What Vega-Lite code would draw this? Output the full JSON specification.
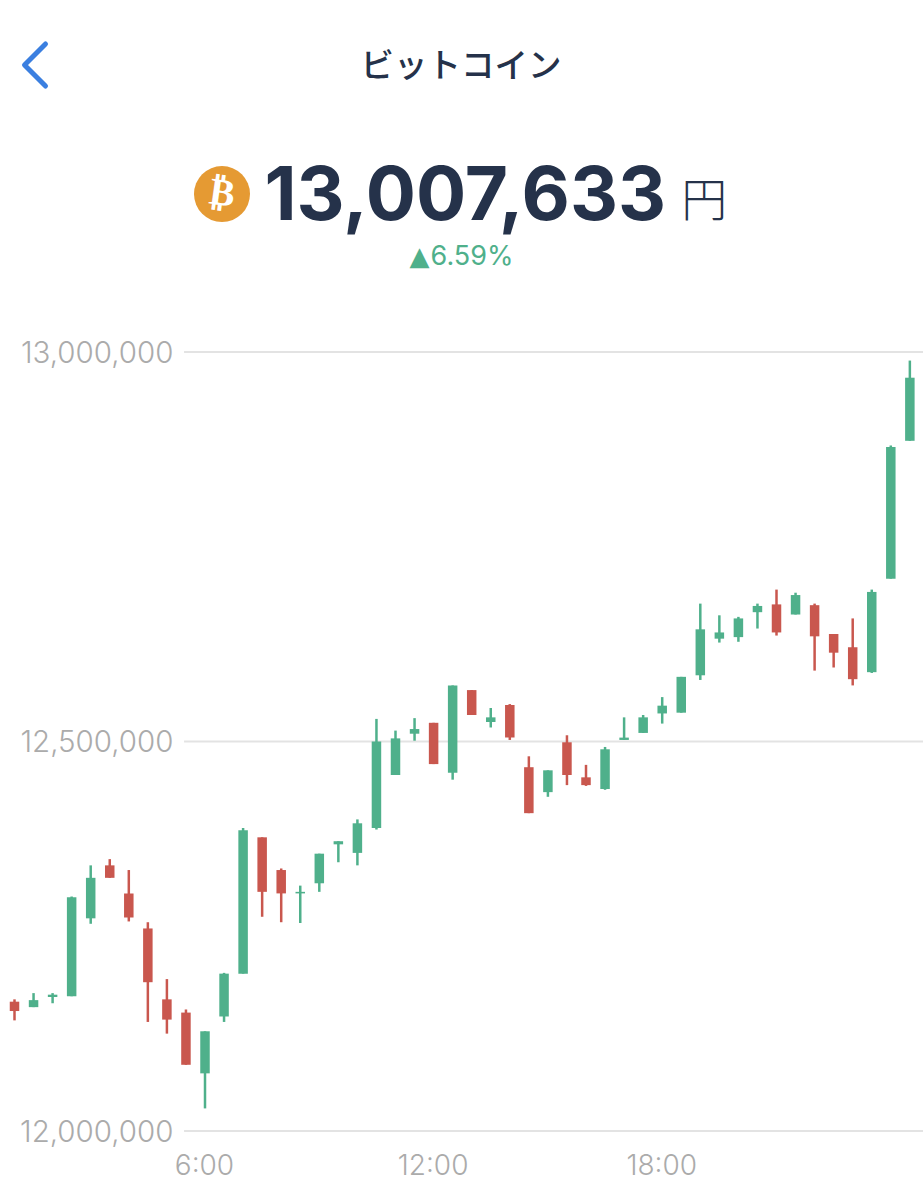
{
  "$schema": "https://vega.github.io/schema/vega-lite/v6.json",
  "width": 923,
  "height": 1200,
  "padding": 0,
  "autosize": {"type": "none"},
  "background": "white",
  "view": {"stroke": null},
  "config": {"axis": {"labelFont": "Inter", "labelFontSize": 27.5, "labelColor": "#ababab", "labelFontWeight": 300}},
  "datasets": {
    "candles": [
      {"hour": 1, "open": 12166000, "high": 12169000, "low": 12142000, "close": 12154000, "dir": "down"},
      {"hour": 1.5, "open": 12159000, "high": 12177000, "low": 12159000, "close": 12168000, "dir": "up"},
      {"hour": 2, "open": 12172000, "high": 12177000, "low": 12164000, "close": 12175000, "dir": "up"},
      {"hour": 2.5, "open": 12173000, "high": 12301000, "low": 12173000, "close": 12300000, "dir": "up"},
      {"hour": 3, "open": 12273000, "high": 12341000, "low": 12266000, "close": 12325000, "dir": "up"},
      {"hour": 3.5, "open": 12341000, "high": 12349000, "low": 12325000, "close": 12325000, "dir": "down"},
      {"hour": 4, "open": 12305000, "high": 12335000, "low": 12269000, "close": 12274000, "dir": "down"},
      {"hour": 4.5, "open": 12260000, "high": 12268000, "low": 12140000, "close": 12191000, "dir": "down"},
      {"hour": 5, "open": 12169000, "high": 12195000, "low": 12125000, "close": 12143000, "dir": "down"},
      {"hour": 5.5, "open": 12152000, "high": 12156000, "low": 12085000, "close": 12085000, "dir": "down"},
      {"hour": 6, "open": 12074000, "high": 12128000, "low": 12029000, "close": 12128000, "dir": "up"},
      {"hour": 6.5, "open": 12147000, "high": 12203000, "low": 12140000, "close": 12202000, "dir": "up"},
      {"hour": 7, "open": 12202000, "high": 12389000, "low": 12202000, "close": 12386000, "dir": "up"},
      {"hour": 7.5, "open": 12377000, "high": 12377000, "low": 12275000, "close": 12307000, "dir": "down"},
      {"hour": 8, "open": 12335000, "high": 12337000, "low": 12268000, "close": 12305000, "dir": "down"},
      {"hour": 8.5, "open": 12305000, "high": 12315000, "low": 12267000, "close": 12307000, "dir": "up"},
      {"hour": 9, "open": 12318000, "high": 12356000, "low": 12307000, "close": 12356000, "dir": "up"},
      {"hour": 9.5, "open": 12368000, "high": 12372000, "low": 12345000, "close": 12372000, "dir": "up"},
      {"hour": 10, "open": 12357000, "high": 12400000, "low": 12341000, "close": 12395000, "dir": "up"},
      {"hour": 10.5, "open": 12389000, "high": 12529000, "low": 12387000, "close": 12500000, "dir": "up"},
      {"hour": 11, "open": 12457000, "high": 12514000, "low": 12457000, "close": 12504000, "dir": "up"},
      {"hour": 11.5, "open": 12510000, "high": 12530000, "low": 12501000, "close": 12516000, "dir": "up"},
      {"hour": 12, "open": 12524000, "high": 12524000, "low": 12471000, "close": 12471000, "dir": "down"},
      {"hour": 12.5, "open": 12460000, "high": 12572000, "low": 12451000, "close": 12572000, "dir": "up"},
      {"hour": 13, "open": 12566000, "high": 12566000, "low": 12534000, "close": 12534000, "dir": "down"},
      {"hour": 13.5, "open": 12525000, "high": 12543000, "low": 12518000, "close": 12531000, "dir": "up"},
      {"hour": 14, "open": 12547000, "high": 12548000, "low": 12502000, "close": 12505000, "dir": "down"},
      {"hour": 14.5, "open": 12467000, "high": 12481000, "low": 12408000, "close": 12408000, "dir": "down"},
      {"hour": 15, "open": 12435000, "high": 12463000, "low": 12429000, "close": 12463000, "dir": "up"},
      {"hour": 15.5, "open": 12499000, "high": 12508000, "low": 12444000, "close": 12457000, "dir": "down"},
      {"hour": 16, "open": 12454000, "high": 12470000, "low": 12443000, "close": 12444000, "dir": "down"},
      {"hour": 16.5, "open": 12439000, "high": 12493000, "low": 12438000, "close": 12490000, "dir": "up"},
      {"hour": 17, "open": 12502000, "high": 12531000, "low": 12502000, "close": 12505000, "dir": "up"},
      {"hour": 17.5, "open": 12511000, "high": 12534000, "low": 12511000, "close": 12531000, "dir": "up"},
      {"hour": 18, "open": 12536000, "high": 12557000, "low": 12523000, "close": 12546000, "dir": "up"},
      {"hour": 18.5, "open": 12537000, "high": 12583000, "low": 12537000, "close": 12583000, "dir": "up"},
      {"hour": 19, "open": 12585000, "high": 12677000, "low": 12579000, "close": 12644000, "dir": "up"},
      {"hour": 19.5, "open": 12632000, "high": 12662000, "low": 12627000, "close": 12640000, "dir": "up"},
      {"hour": 20, "open": 12634000, "high": 12660000, "low": 12628000, "close": 12658000, "dir": "up"},
      {"hour": 20.5, "open": 12666000, "high": 12677000, "low": 12645000, "close": 12674000, "dir": "up"},
      {"hour": 21, "open": 12676000, "high": 12695000, "low": 12636000, "close": 12640000, "dir": "down"},
      {"hour": 21.5, "open": 12663000, "high": 12691000, "low": 12663000, "close": 12688000, "dir": "up"},
      {"hour": 22, "open": 12675000, "high": 12677000, "low": 12591000, "close": 12635000, "dir": "down"},
      {"hour": 22.5, "open": 12638000, "high": 12638000, "low": 12595000, "close": 12614000, "dir": "down"},
      {"hour": 23, "open": 12621000, "high": 12658000, "low": 12572000, "close": 12580000, "dir": "down"},
      {"hour": 23.5, "open": 12589000, "high": 12695000, "low": 12588000, "close": 12692000, "dir": "up"},
      {"hour": 24, "open": 12709000, "high": 12880000, "low": 12709000, "close": 12878000, "dir": "up"},
      {"hour": 24.5, "open": 12886000, "high": 12989000, "low": 12886000, "close": 12967000, "dir": "up"}
    ]
  },
  "data": {"name": "candles"},
  "layer": [
    {
      "data": {"values": [{"price": 12000000}, {"price": 12500000}, {"price": 13000000}]},
      "mark": {"type": "rule", "color": "#e3e3e3", "strokeWidth": 2},
      "encoding": {
        "x": {
          "datum": 5.45,
          "type": "quantitative",
          "scale": {"domain": [0.6194, 24.845], "nice": false, "zero": false, "padding": 0},
          "axis": {"title": null, "values": [6, 12, 18], "labelExpr": "datum.value + ':00'", "orient": "bottom", "offset": -34, "domain": false, "ticks": false, "tickSize": 0, "labelPadding": 0, "labelBaseline": "middle", "labelFontSize": 28, "labelOffset": -1, "labelBound": false, "labelFlush": false, "labelOverlap": false, "grid": false}
        },
        "x2": {"datum": 24.845},
        "y": {
          "field": "price",
          "type": "quantitative",
          "scale": {"domain": [11911425, 13451861], "nice": false, "zero": false},
          "axis": {"title": null, "values": [12000000, 12500000, 13000000], "labelExpr": "format(datum.value, ',')", "orient": "left", "offset": -173, "domain": false, "ticks": false, "tickSize": 0, "labelPadding": 0, "labelFontSize": 29.5, "labelOffset": 1.5, "labelBound": false, "labelFlush": false, "labelOverlap": false, "grid": false}
        }
      }
    },
    {
      "mark": {"type": "rule", "strokeWidth": 2.5},
      "encoding": {
        "x": {"field": "hour", "type": "quantitative"},
        "y": {"field": "low", "type": "quantitative"},
        "y2": {"field": "high"},
        "color": {"field": "dir", "type": "nominal", "legend": null, "scale": {"domain": ["up", "down"], "range": ["#4fb08b", "#c9574e"]}}
      }
    },
    {
      "mark": {"type": "bar", "width": 9.5},
      "encoding": {
        "x": {"field": "hour", "type": "quantitative"},
        "y": {"field": "open", "type": "quantitative"},
        "y2": {"field": "close"},
        "color": {"field": "dir", "type": "nominal", "legend": null}
      }
    },
    {
      "data": {"values": [{"label": "back"}]},
      "mark": {"type": "point", "shape": "M0.5 -1L-0.5 0L0.5 1", "filled": false, "stroke": "#3b7fe0", "strokeWidth": 5, "strokeCap": "round", "strokeJoin": "round", "opacity": 1, "size": 1764},
      "encoding": {
        "x": {"datum": 1.538},
        "y": {"datum": 13368400}
      }
    },
    {
      "data": {"values": [{"label": "ビットコイン"}]},
      "mark": {"type": "text", "font": "Noto Sans CJK JP", "fontSize": 33.5, "fontWeight": 500, "color": "#25324a", "align": "center", "baseline": "middle"},
      "encoding": {
        "x": {"datum": 12.72},
        "y": {"datum": 13365800},
        "text": {"field": "label"}
      }
    },
    {
      "data": {"values": [{"label": "btc"}]},
      "mark": {"type": "circle", "color": "#e59a33", "opacity": 1, "size": 3136},
      "encoding": {
        "x": {"datum": 6.446},
        "y": {"datum": 13202800}
      }
    },
    {
      "data": {"values": [{"label": "₿"}]},
      "mark": {"type": "text", "font": "DejaVu Sans", "fontSize": 38, "fontWeight": "bold", "color": "white", "align": "center", "baseline": "middle", "angle": 8},
      "encoding": {
        "x": {"datum": 6.446},
        "y": {"datum": 13202800},
        "text": {"field": "label"}
      }
    },
    {
      "data": {"values": [{"label": "13,007,633"}]},
      "mark": {"type": "text", "font": "Inter", "fontSize": 74.5, "fontWeight": 700, "color": "#25324a", "align": "left", "baseline": "middle"},
      "encoding": {
        "x": {"datum": 7.56},
        "y": {"datum": 13197800},
        "text": {"field": "label"}
      }
    },
    {
      "data": {"values": [{"label": "円"}]},
      "mark": {"type": "text", "font": "Noto Sans CJK JP", "fontSize": 46, "fontWeight": 300, "color": "#25324a", "align": "left", "baseline": "middle"},
      "encoding": {
        "x": {"datum": 18.5},
        "y": {"datum": 13192600},
        "text": {"field": "label"}
      }
    },
    {
      "data": {"values": [{"label": "▲"}]},
      "mark": {"type": "text", "font": "DejaVu Sans", "fontSize": 26, "color": "#4fb08b", "align": "center", "baseline": "middle"},
      "encoding": {
        "x": {"datum": 11.63},
        "y": {"datum": 13122000},
        "text": {"field": "label"}
      }
    },
    {
      "data": {"values": [{"label": "6.59%"}]},
      "mark": {"type": "text", "font": "Inter", "fontSize": 27, "color": "#4fb08b", "align": "left", "baseline": "middle"},
      "encoding": {
        "x": {"datum": 11.92},
        "y": {"datum": 13122000},
        "text": {"field": "label"}
      }
    }
  ]
}
